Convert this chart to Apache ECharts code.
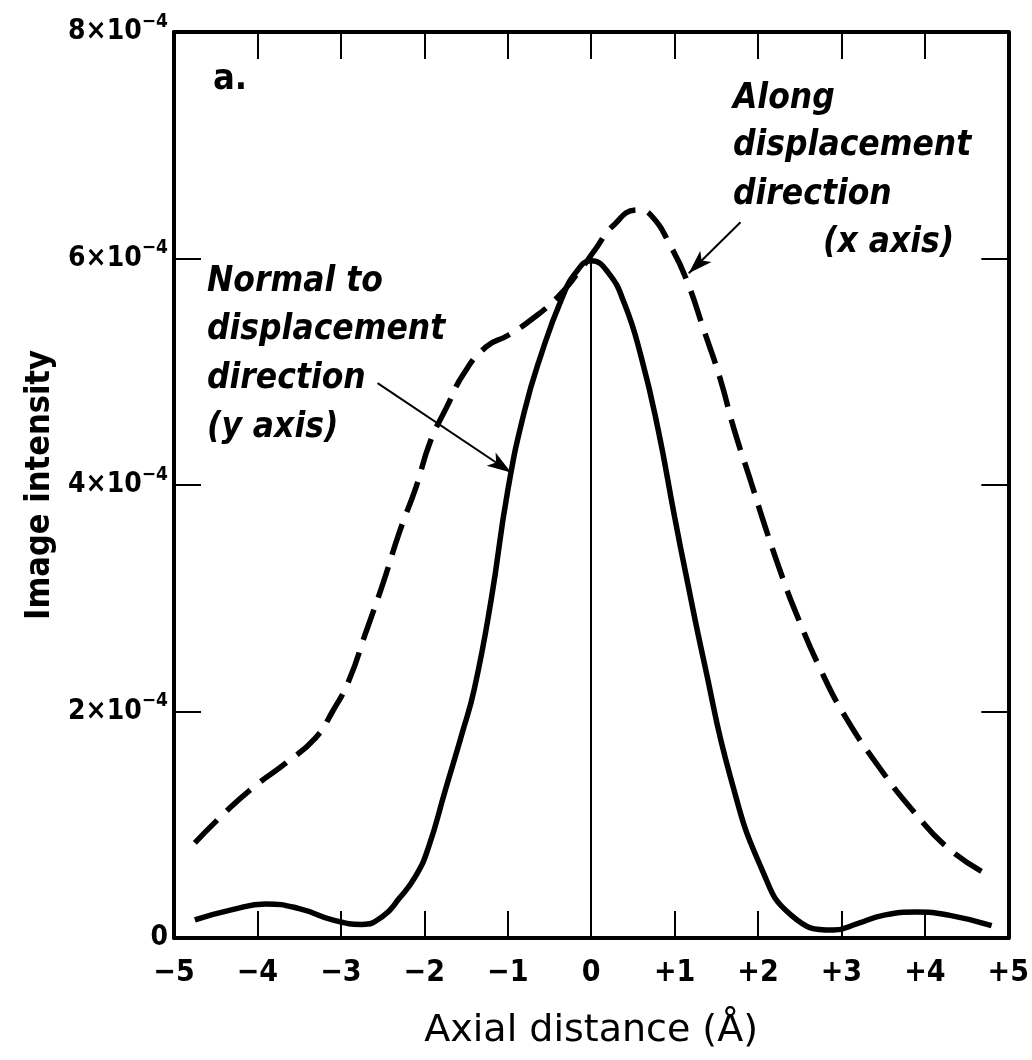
<!DOCTYPE html>
<html>
<head>
<meta charset="utf-8">
<title>Image intensity vs axial distance</title>
<script src="https://cdn.jsdelivr.net/npm/echarts@6/dist/echarts.min.js"></script>
<style>
  html, body { margin: 0; padding: 0; background: #fff; }
  #chart { width: 1032px; height: 1060px; }
</style>
</head>
<body>
<div id="chart"></div>
<script>
// intensities are in units of 1e-4
const xTicks = [-5, -4, -3, -2, -1, 0, 1, 2, 3, 4, 5]
const yTicks = [0, 2, 4, 6, 8]

// Normal to displacement direction (y axis) - solid
const normalX = [-4.75, -4.3, -3.9, -3.5, -3.1, -2.75, -2.5, -2.3, -2.1, -1.95, -1.75, -1.55, -1.4, -1.2, -1.0, -0.8, -0.6, -0.35, -0.18, 0, 0.2, 0.4, 0.6, 0.8, 1.0, 1.15, 1.35, 1.67, 2.05, 2.4, 2.9, 3.2, 3.5, 3.9, 4.3, 4.8]
const normalY = [0.16, 0.25, 0.30, 0.26, 0.16, 0.12, 0.19, 0.35, 0.55, 0.80, 1.30, 1.80, 2.20, 2.98, 3.95, 4.65, 5.15, 5.65, 5.88, 5.98, 5.88, 5.60, 5.13, 4.50, 3.72, 3.16, 2.45, 1.42, 0.60, 0.20, 0.07, 0.13, 0.20, 0.23, 0.20, 0.11]

// Along displacement direction (x axis) - dashed
const alongX = [-4.75, -4.4, -4.05, -3.65, -3.3, -3.1, -2.9, -2.7, -2.5, -2.3, -2.1, -1.93, -1.73, -1.53, -1.26, -1.0, -0.7, -0.4, -0.15, 0.05, 0.25, 0.56, 0.72, 0.96, 1.15, 1.35, 1.55, 1.71, 1.91, 2.1, 2.3, 2.45, 2.75, 3.05, 3.45, 3.85, 4.3, 4.75]
const alongY = [0.84, 1.10, 1.33, 1.55, 1.77, 2.00, 2.28, 2.70, 3.12, 3.58, 3.98, 4.38, 4.69, 4.98, 5.22, 5.32, 5.47, 5.66, 5.88, 6.08, 6.28, 6.43, 6.38, 6.10, 5.80, 5.37, 4.93, 4.50, 4.04, 3.60, 3.17, 2.88, 2.37, 1.95, 1.51, 1.13, 0.78, 0.56]

// arrow pointers [from, to] in data coords
const normalArrow = [[-2.56, 4.90], [-0.96, 4.11]]
const alongArrow = [[1.79, 6.32], [1.17, 5.87]]

const FONT = "'DejaVu Sans Condensed', 'Liberation Sans Narrow', 'Liberation Sans', sans-serif"

const zip = (xs, ys) => xs.map((x, i) => [x, ys[i]])

const fmtX = (v) => {
    if (v > 0) return '+' + v
    if (v < 0) return '\u2212' + (-v)
    return '0'
}

const chart = echarts.init(document.getElementById('chart'), null, { renderer: 'canvas' })

const axisLine = { show: true, onZero: false, lineStyle: { color: '#000', width: 4 } }
const axisTick = { show: true, inside: true, length: 27, lineStyle: { color: '#000', width: 2 } }

const italic = (text, x, y) => ({
    type: 'text',
    x: x,
    y: y,
    style: {
        text: text,
        fill: '#000',
        font: 'italic bold 35px ' + FONT,
        verticalAlign: 'middle'
    }
})

const option = {
    animation: false,
    backgroundColor: '#fff',
    grid: { left: 174, right: 14, top: 32, bottom: 122 },
    xAxis: [
        {
            type: 'value',
            min: -5, max: 5, interval: 1,
            position: 'bottom',
            axisLine: axisLine,
            axisTick: axisTick,
            splitLine: { show: false },
            axisLabel: {
                formatter: fmtX,
                color: '#000',
                fontFamily: FONT,
                fontWeight: 'bold',
                fontSize: 30,
                margin: 20
            },
            name: 'Axial distance (\u00c5)',
            nameLocation: 'middle',
            nameGap: 74,
            nameTextStyle: { color: '#000', fontFamily: "'DejaVu Sans', sans-serif", fontSize: 38 }
        },
        {
            type: 'value',
            min: -5, max: 5, interval: 1,
            position: 'top',
            axisLine: axisLine,
            axisTick: axisTick,
            axisLabel: { show: false },
            splitLine: { show: false }
        }
    ],
    yAxis: [
        {
            type: 'value',
            min: 0, max: 8, interval: 2,
            position: 'left',
            axisLine: axisLine,
            axisTick: axisTick,
            splitLine: { show: false },
            axisLabel: {
                margin: 6,
                color: '#000',
                fontFamily: FONT,
                fontWeight: 'bold',
                fontSize: 28,
                formatter: (v) => v === 0 ? '{a|0}' : '{a|' + v + '\u00d710}{s|\u22124}',
                rich: {
                    a: { color: '#000', fontFamily: FONT, fontWeight: 'bold', fontSize: 28 },
                    s: { color: '#000', fontFamily: FONT, fontWeight: 'bold', fontSize: 19, padding: [0, 0, 20, 0] }
                }
            },
            name: 'Image intensity',
            nameLocation: 'middle',
            nameGap: 88,
            nameTextStyle: { color: '#000', fontFamily: FONT, fontWeight: 'bold', fontSize: 34 }
        },
        {
            type: 'value',
            min: 0, max: 8, interval: 2,
            position: 'right',
            axisLine: axisLine,
            axisTick: axisTick,
            axisLabel: { show: false },
            splitLine: { show: false }
        }
    ],
    series: [
        {
            name: 'Normal to displacement direction (y axis)',
            type: 'line',
            data: zip(normalX, normalY),
            smooth: 0.5,
            showSymbol: false,
            lineStyle: { color: '#000', width: 5.5 },
            markLine: {
                silent: true,
                animation: false,
                label: { show: false },
                data: [
                    [
                        { coord: [0, 0], symbol: 'none' },
                        { coord: [0, Math.max(...normalY)], symbol: 'none' }
                    ],
                    [
                        { coord: normalArrow[0], symbol: 'none' },
                        { coord: normalArrow[1], symbol: 'arrow', symbolSize: [12, 24] }
                    ]
                ],
                lineStyle: { color: '#000', width: 2, type: 'solid' }
            }
        },
        {
            name: 'Along displacement direction (x axis)',
            type: 'line',
            data: zip(alongX, alongY),
            smooth: 0.5,
            showSymbol: false,
            lineStyle: { color: '#000', width: 5.5, type: [32, 13] },
            markLine: {
                silent: true,
                animation: false,
                label: { show: false },
                data: [
                    [
                        { coord: alongArrow[0], symbol: 'none' },
                        { coord: alongArrow[1], symbol: 'arrow', symbolSize: [12, 24] }
                    ]
                ],
                lineStyle: { color: '#000', width: 2, type: 'solid' }
            }
        }
    ],
    graphic: [
        {
            type: 'text',
            x: 213, y: 80,
            style: { text: 'a.', fill: '#000', font: 'bold 36px ' + FONT, verticalAlign: 'middle' }
        },
        italic('Along', 733, 99),
        italic('displacement', 733, 146),
        italic('direction', 733, 195),
        italic('(x axis)', 823, 243),
        italic('Normal to', 207, 282),
        italic('displacement', 207, 330),
        italic('direction', 207, 379),
        italic('(y axis)', 207, 428)
    ]
}

chart.setOption(option)
</script>
</body>
</html>
